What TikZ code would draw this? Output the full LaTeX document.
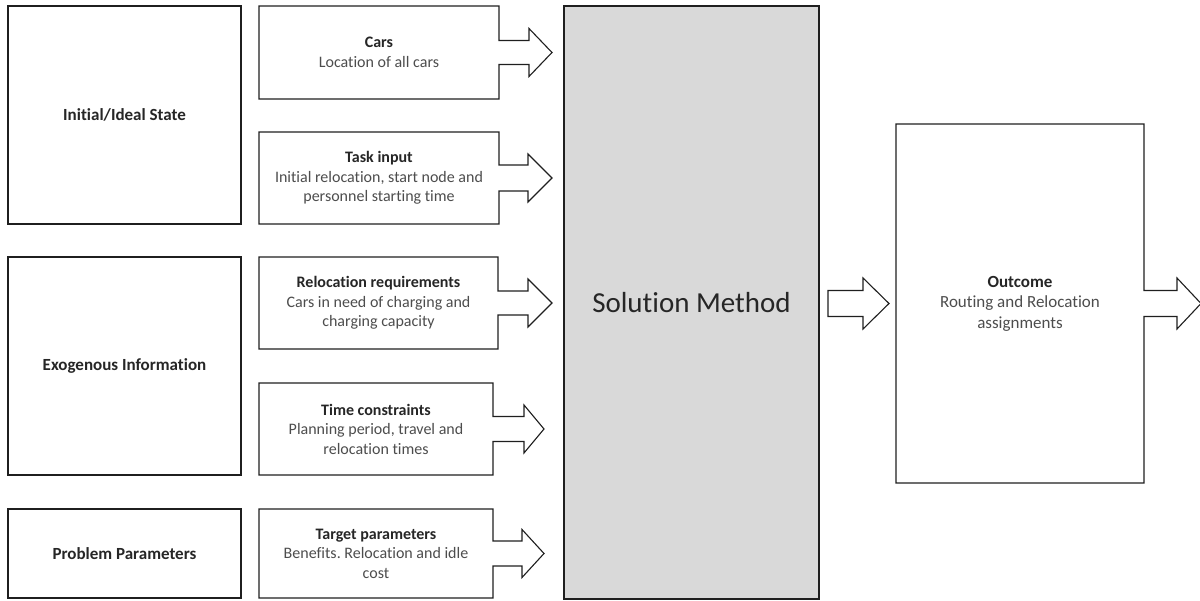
\documentclass[tikz,border=0pt]{standalone}
\usepackage{fontspec}
\setmainfont{Carlito}[Ligatures=NoCommon]
\usetikzlibrary{calc}
\frenchspacing

\definecolor{edge}{HTML}{1F1F1F}
\definecolor{fillgray}{HTML}{D9D9D9}
\definecolor{headtext}{HTML}{262626}
\definecolor{bodytext}{HTML}{4D4D4D}

\tikzset{
  box/.style={draw=edge, line width=1.1pt, fill=white, inner sep=0pt, outer sep=0pt,
              align=center, text=headtext, font=\fontsize{17}{20}\selectfont\bfseries},
  frame/.style={inner sep=0pt, outer sep=0pt, align=center, text=bodytext,
                font=\fontsize{16}{19.5}\selectfont\frenchspacing},
  bigframe/.style={frame, font=\fontsize{17}{20.5}\selectfont},
  outline/.style={draw=edge, line width=1.1pt, line join=miter, fill=white},
}

% box outline whose right edge opens into a block arrow
% #1 node, #2 head base offset, #3 tip offset, #4 stem half height, #5 head half height
\newcommand\tabarrow[5]{%
  \draw[outline] (#1.north west) -- (#1.north east) -- ($(#1.east)+(0,-#4)$)
    -- ($(#1.east)+(#2,-#4)$) -- ($(#1.east)+(#2,-#5)$) -- ($(#1.east)+(#3,0)$)
    -- ($(#1.east)+(#2,#5)$) -- ($(#1.east)+(#2,#4)$) -- ($(#1.east)+(0,#4)$)
    -- (#1.south east) -- (#1.south west) -- cycle;}

\newcommand\titled[2]{{\bfseries\color{headtext}#1}\\#2}

\begin{document}
\begin{tikzpicture}[x=1pt, y=-1pt]
\useasboundingbox (0,0) rectangle (1200,601);
\clip (0,0) rectangle (1200,601);

% left column
\node[box, minimum width=233, minimum height=218] (init) at (124.5,115) {Initial/Ideal State};
\node[box, minimum width=233, minimum height=218] (exo) at (124.5,366) {Exogenous Information};
\node[box, minimum width=233, minimum height=89] (prob) at (124.5,553.5) {Problem Parameters};

% input boxes
\node[frame, minimum width=240, minimum height=93] (cars) at (379,52.5) {};
\node[frame, minimum width=240, minimum height=92] (task) at (379,178) {};
\node[frame, minimum width=239, minimum height=92] (reloc) at (378.5,303) {};
\node[frame, minimum width=234, minimum height=92] (time) at (376,429) {};
\node[frame, minimum width=234, minimum height=89] (target) at (376,553.5) {};

\tabarrow{cars}{30}{53}{12}{24}
\tabarrow{task}{29}{53}{13}{24}
\tabarrow{reloc}{30}{54}{12}{24}
\tabarrow{time}{31}{51}{12.5}{24}
\tabarrow{target}{29}{51}{12.5}{24}

\node[frame] at (cars) {\titled{Cars}{Location of all cars}};
\node[frame] at (task) {\titled{Task input}{Initial relocation, start node and\\personnel starting time}};
\node[frame] at (reloc) {\titled{Relocation requirements}{Cars in need of charging and\\charging capacity}};
\node[frame] at (time) {\titled{Time constraints}{Planning period, travel and\\relocation times}};
\node[frame] at (target) {\titled{Target parameters}{Benefits. Relocation and idle\\cost}};

% solution method
\node[box, fill=fillgray, minimum width=255, minimum height=593,
      font=\fontsize{29}{35}\selectfont, text=headtext] (sol) at (691.5,302.5) {Solution Method};

% outcome
\node[bigframe, minimum width=248, minimum height=359] (out) at (1020,303.5) {};
\tabarrow{out}{33}{57}{13}{25.5}
\node[bigframe] at (out) {\titled{Outcome}{Routing and Relocation\\assignments}};

% block arrow from solution method to outcome
\coordinate (mid) at (sol.east |- out.west);
\draw[outline] ($(mid)+(9,-13)$) -- ($(mid)+(44,-13)$) -- ($(mid)+(44,-25.5)$)
  -- ($(out.west)+(-7,0)$) -- ($(mid)+(44,25.5)$) -- ($(mid)+(44,13)$)
  -- ($(mid)+(9,13)$) -- cycle;
\end{tikzpicture}
\end{document}
